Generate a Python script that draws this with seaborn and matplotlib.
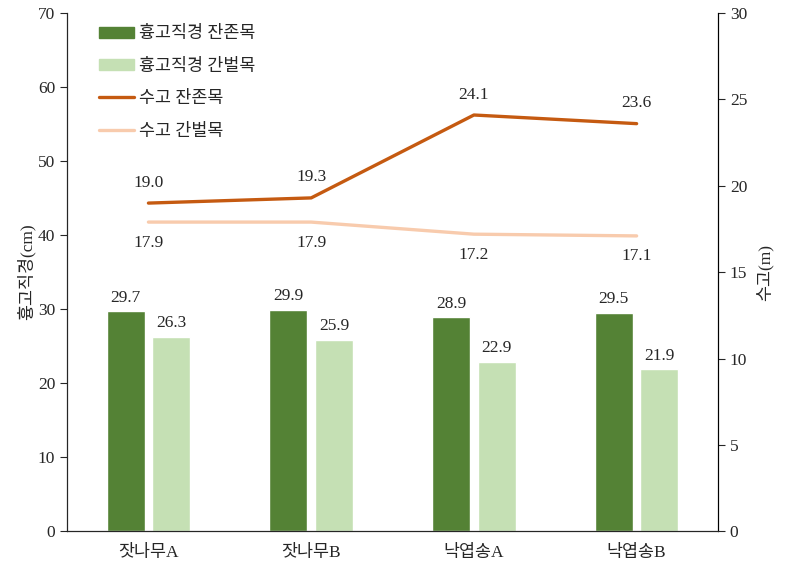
import matplotlib
matplotlib.use("Agg")
import matplotlib.pyplot as plt
import pandas as pd
import seaborn as sns
import numpy as np

# 데이터
categories = ["잣나무A", "잣나무B", "낙엽송A", "낙엽송B"]
dbh_remain = [29.7, 29.9, 28.9, 29.5]
dbh_thinned = [26.3, 25.9, 22.9, 21.9]
height_remain = [19.0, 19.3, 24.1, 23.6]
height_thinned = [17.9, 17.9, 17.2, 17.1]

series_bar = ["흉고직경 잔존목", "흉고직경 간벌목"]
series_line = ["수고 잔존목", "수고 간벌목"]

C_DARK_G = "#548235"
C_LIGHT_G = "#C5E0B4"
C_DARK_O = "#C55A11"
C_LIGHT_O = "#F8CBAD"

FS = 12.5


def main():
    sns.set_style("white")
    plt.rcParams["font.family"] = ["Liberation Serif", "Noto Sans CJK KR"]
    plt.rcParams["font.size"] = FS

    df_bar = pd.DataFrame({
        "category": categories * 2,
        "series": [series_bar[0]] * 4 + [series_bar[1]] * 4,
        "value": dbh_remain + dbh_thinned,
    })

    fig = plt.figure(figsize=(7.89, 5.70), dpi=100)
    ax = fig.add_axes([0.085, 0.068, 0.825, 0.909])

    sns.barplot(data=df_bar, x="category", y="value", hue="series",
                order=categories, hue_order=series_bar,
                palette=[C_DARK_G, C_LIGHT_G], width=0.56, gap=0.17,
                ax=ax, legend=False, saturation=1)
    for cont in ax.containers:
        ax.bar_label(cont, fmt="%.1f", padding=4, fontsize=FS)

    ax.set_ylim(0, 70)
    ax.set_yticks(range(0, 71, 10))
    ax.set_xlim(-0.5, len(categories) - 0.5)
    ax.set_xlabel("")
    ax.set_ylabel("흉고직경(cm)", fontsize=FS, labelpad=2)
    ax.tick_params(axis="y", direction="out", length=5, left=True, labelsize=FS)
    ax.tick_params(axis="x", length=0, labelsize=FS, pad=10)
    ax.spines["top"].set_visible(False)
    for s in ["left", "bottom", "right"]:
        ax.spines[s].set_color("black")
        ax.spines[s].set_linewidth(0.8)

    ax2 = ax.twinx()
    pos = np.arange(len(categories))
    df_line = pd.DataFrame({
        "pos": np.concatenate([pos, pos]),
        "series": [series_line[0]] * 4 + [series_line[1]] * 4,
        "value": height_remain + height_thinned,
    })
    sns.lineplot(data=df_line, x="pos", y="value", hue="series",
                 hue_order=series_line, palette=[C_DARK_O, C_LIGHT_O],
                 linewidth=2.4, ax=ax2, legend=False)
    for x, v in zip(pos, height_remain):
        ax2.annotate(f"{v:.1f}", (x, v), xytext=(0, 9), textcoords="offset points",
                     ha="center", va="bottom", fontsize=FS)
    for x, v in zip(pos, height_thinned):
        ax2.annotate(f"{v:.1f}", (x, v), xytext=(0, -9), textcoords="offset points",
                     ha="center", va="top", fontsize=FS)

    ax2.set_ylim(0, 30)
    ax2.set_yticks(range(0, 31, 5))
    ax2.set_xlim(-0.5, len(categories) - 0.5)
    ax2.set_xlabel("")
    ax2.set_ylabel("수고(m)", fontsize=FS, labelpad=6)
    ax2.tick_params(axis="y", direction="out", length=5, right=True, labelsize=FS)
    ax2.spines["top"].set_visible(False)
    ax2.spines["right"].set_color("black")
    ax2.spines["right"].set_linewidth(0.8)

    handles = [
        plt.Rectangle((0, 0), 1, 1, color=C_DARK_G),
        plt.Rectangle((0, 0), 1, 1, color=C_LIGHT_G),
        plt.Line2D([], [], color=C_DARK_O, linewidth=2.4),
        plt.Line2D([], [], color=C_LIGHT_O, linewidth=2.4),
    ]
    ax2.legend(handles, series_bar + series_line, loc="upper left",
               bbox_to_anchor=(0.025, 1.005), frameon=False, fontsize=FS,
               labelspacing=0.95, handlelength=2.0, handleheight=0.6,
               handletextpad=0.3)

    fig.savefig("out.png", dpi=100)
    plt.close(fig)


if __name__ == "__main__":
    main()
